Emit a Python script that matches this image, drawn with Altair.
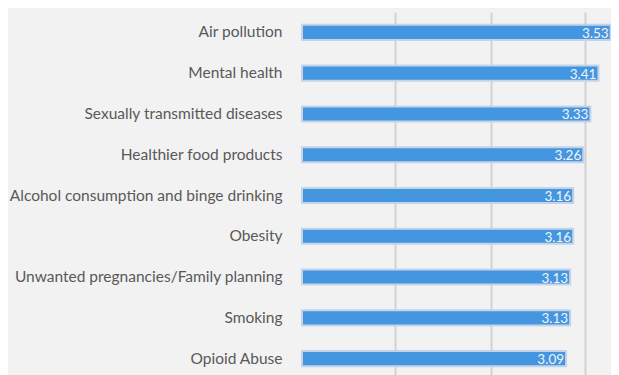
import altair as alt
import pandas as pd

categories = [
    "Air pollution",
    "Mental health",
    "Sexually transmitted diseases",
    "Healthier food products",
    "Alcohol consumption and binge drinking",
    "Obesity",
    "Unwanted pregnancies/Family planning",
    "Smoking",
    "Opioid Abuse",
]
values = [3.53, 3.41, 3.33, 3.26, 3.16, 3.16, 3.13, 3.13, 3.09]
grid_values = [1.40, 2.35, 3.28]
x_domain = [0.481, 3.534]

df = pd.DataFrame({"topic": categories, "score": values})
df["label"] = df["score"].map(lambda v: f"{v:.2f}")

x_scale = alt.Scale(domain=x_domain, zero=False, nice=False)
y_enc = alt.Y(
    "topic:N",
    sort=categories,
    title=None,
    scale=alt.Scale(paddingInner=0.63, paddingOuter=0.315),
    axis=alt.Axis(
        ticks=False,
        domain=False,
        labelPadding=20,
        labelFont="Lato",
        labelFontSize=15.5,
        labelColor="#595959",
        labelLimit=400,
    ),
)

base = alt.Chart(df)

bars = base.mark_bar(
    color="#3d93e0",
    opacity=0.96,
    stroke="#c3d3e8",
    strokeWidth=2,
).encode(
    x=alt.X(
        "score:Q",
        scale=x_scale,
        title=None,
        axis=alt.Axis(
            labels=False,
            ticks=False,
            domain=False,
            grid=True,
            gridColor="#d2d2d2",
            gridWidth=2,
            values=grid_values,
        ),
    ),
    x2=alt.datum(x_domain[0]),
    y=y_enc,
)

text = base.mark_text(
    align="right",
    baseline="middle",
    dx=-2,
    dy=1.5,
    font="Lato",
    fontSize=13.5,
    color="#f4f4f4",
).encode(
    x=alt.X("score:Q", scale=x_scale),
    y=alt.Y("topic:N", sort=categories),
    text="label:N",
)

chart = (
    alt.layer(bars, text)
    .properties(
        width=309,
        height=367,
        background="#f2f2f2",
        autosize=alt.AutoSizeParams(type="none"),
        padding={"left": 294, "top": 4, "right": 0, "bottom": 0},
    )
    .configure_view(stroke=None)
)

chart.save("out.html", embed_options={"renderer": "svg", "actions": False})
